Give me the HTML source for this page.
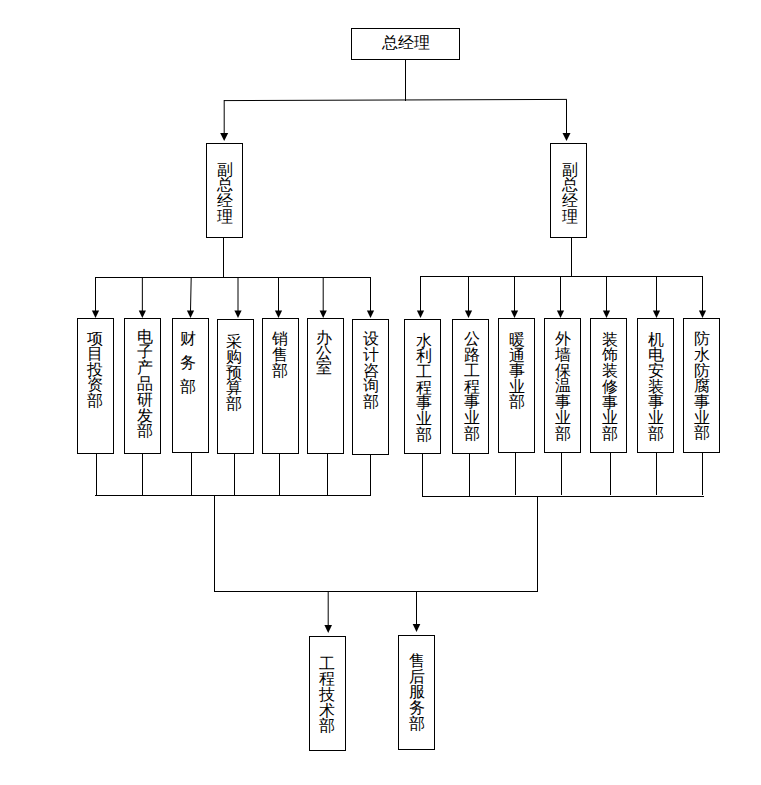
<!DOCTYPE html>
<html><head><meta charset="utf-8"><style>
html,body{margin:0;padding:0;background:#fff;width:761px;height:785px;overflow:hidden}
body{position:relative;font-family:"Liberation Sans",sans-serif;color:#000}
svg{position:absolute;left:0;top:0}
svg line{stroke:#000;stroke-width:1}
svg rect{fill:none;stroke:#000;stroke-width:1}
svg polygon{fill:#000;stroke:none;shape-rendering:geometricPrecision}
svg line.aa{shape-rendering:geometricPrecision}
.v{position:absolute;width:16px;height:120px}
.v i{position:absolute;left:0;font-style:normal;font-size:15.5px;line-height:16px;display:block;width:16px;text-align:center}
.h{position:absolute;font-size:15.5px;line-height:16px;white-space:nowrap}
</style></head><body>
<svg width="761" height="785" viewBox="0 0 761 785" shape-rendering="crispEdges">
<rect x="351.5" y="28.5" width="108" height="31"/>
<line x1="405.5" y1="59" x2="405.5" y2="101"/>
<line class="aa" x1="224" y1="100.6" x2="567" y2="99.4"/>
<line class="aa" x1="224.2" y1="100" x2="224.2" y2="133.5"/><polygon points="220.2,133 228.2,133 224.2,141"/>
<line x1="566.5" y1="100" x2="566.5" y2="134"/><polygon points="562.5,133 570.5,133 566.5,141"/>
<rect x="206.5" y="143.5" width="36" height="94"/>
<rect x="550.5" y="143.5" width="36" height="94"/>
<line x1="223.5" y1="237" x2="223.5" y2="278"/>
<line x1="571.5" y1="237" x2="571.5" y2="277"/>
<line x1="95" y1="277.5" x2="371" y2="277.5"/>
<line x1="420" y1="276.5" x2="703" y2="276.5"/>
<line x1="95.5" y1="277" x2="95.5" y2="311"/><polygon points="91.9,310.5 99.1,310.5 95.5,318"/>
<line class="aa" x1="142.35" y1="277.5" x2="142.35" y2="311.0"/><polygon points="138.75,310.5 145.95,310.5 142.35,318"/>
<line class="aa" x1="191.2" y1="277.5" x2="190.5" y2="311.0"/><polygon points="186.9,310.5 194.1,310.5 190.5,318"/>
<line class="aa" x1="238.0" y1="277.5" x2="238.0" y2="311.0"/><polygon points="234.4,310.5 241.6,310.5 238.0,318"/>
<line x1="278.5" y1="277" x2="278.5" y2="311"/><polygon points="274.9,310.5 282.1,310.5 278.5,318"/>
<line class="aa" x1="323.2" y1="277.5" x2="323.2" y2="311.0"/><polygon points="319.59999999999997,310.5 326.8,310.5 323.2,318"/>
<line x1="370.5" y1="277" x2="370.5" y2="311"/><polygon points="366.9,310.5 374.1,310.5 370.5,318"/>
<line x1="420.5" y1="276" x2="420.5" y2="311"/><polygon points="416.9,310.5 424.1,310.5 420.5,318"/>
<line x1="468.5" y1="276" x2="468.5" y2="311"/><polygon points="464.9,310.5 472.1,310.5 468.5,318"/>
<line x1="514.5" y1="276" x2="514.5" y2="311"/><polygon points="510.9,310.5 518.1,310.5 514.5,318"/>
<line x1="560.5" y1="276" x2="560.5" y2="311"/><polygon points="556.9,310.5 564.1,310.5 560.5,318"/>
<line x1="606.5" y1="276" x2="606.5" y2="311"/><polygon points="602.9,310.5 610.1,310.5 606.5,318"/>
<line x1="656.5" y1="276" x2="656.5" y2="311"/><polygon points="652.9,310.5 660.1,310.5 656.5,318"/>
<line x1="702.5" y1="276" x2="702.5" y2="311"/><polygon points="698.9,310.5 706.1,310.5 702.5,318"/>
<rect x="77.5" y="318.5" width="36" height="135"/>
<rect x="124.5" y="318.5" width="36" height="135"/>
<rect x="172.5" y="318.5" width="36" height="134"/>
<rect x="217.5" y="319.5" width="36" height="134"/>
<rect x="262.5" y="318.5" width="36" height="135"/>
<rect x="307.5" y="318.5" width="36" height="135"/>
<rect x="352.5" y="319.5" width="36" height="135"/>
<rect x="404.5" y="319.5" width="36" height="134"/>
<rect x="452.5" y="319.5" width="36" height="134"/>
<rect x="498.5" y="318.5" width="36" height="134"/>
<rect x="544.5" y="318.5" width="36" height="134"/>
<rect x="590.5" y="318.5" width="36" height="134"/>
<rect x="637.5" y="318.5" width="36" height="134"/>
<rect x="683.5" y="318.5" width="36" height="134"/>
<line x1="96.5" y1="453" x2="96.5" y2="496"/>
<line x1="142.5" y1="453" x2="142.5" y2="496"/>
<line x1="191.5" y1="452" x2="191.5" y2="496"/>
<line x1="234.5" y1="453" x2="234.5" y2="496"/>
<line x1="279.5" y1="453" x2="279.5" y2="496"/>
<line x1="327.5" y1="453" x2="327.5" y2="496"/>
<line x1="370.5" y1="454" x2="370.5" y2="496"/>
<line x1="422.5" y1="453" x2="422.5" y2="497"/>
<line x1="469.5" y1="453" x2="469.5" y2="497"/>
<line x1="515.5" y1="452" x2="515.5" y2="495"/>
<line x1="561.5" y1="452" x2="561.5" y2="495"/>
<line x1="610.5" y1="452" x2="610.5" y2="495"/>
<line x1="656.5" y1="452" x2="656.5" y2="495"/>
<line x1="702.5" y1="452" x2="702.5" y2="495"/>
<line x1="95" y1="495.5" x2="371" y2="495.5"/>
<line x1="422" y1="496.5" x2="704" y2="496.5"/>
<line x1="214.5" y1="495" x2="214.5" y2="592"/>
<line x1="537.5" y1="496" x2="537.5" y2="592"/>
<line x1="214" y1="591.5" x2="538" y2="591.5"/>
<line class="aa" x1="328.2" y1="591.5" x2="328.2" y2="625.5"/><polygon points="324.4,625 332.0,625 328.2,633"/>
<line x1="416.5" y1="591" x2="416.5" y2="625"/><polygon points="412.7,624 420.3,624 416.5,632"/>
<rect x="309.5" y="636.5" width="36" height="114"/>
<rect x="398.5" y="635.5" width="36" height="114"/>
</svg>
<div class="v" style="left:216.8px;top:161.8px"><i style="top:0.00px">副</i><i style="top:15.65px">总</i><i style="top:31.30px">经</i><i style="top:46.95px">理</i></div><div class="v" style="left:562.0px;top:161.8px"><i style="top:0.00px">副</i><i style="top:15.65px">总</i><i style="top:31.30px">经</i><i style="top:46.95px">理</i></div><div class="v" style="left:87.3px;top:330.7px"><i style="top:0.00px">项</i><i style="top:15.60px">目</i><i style="top:31.20px">投</i><i style="top:46.80px">资</i><i style="top:62.40px">部</i></div><div class="v" style="left:137.0px;top:328.7px"><i style="top:0.00px">电</i><i style="top:15.80px">子</i><i style="top:31.60px">产</i><i style="top:47.40px">品</i><i style="top:63.20px">研</i><i style="top:79.00px">发</i><i style="top:94.80px">部</i></div><div class="v" style="left:179.5px;top:330.7px"><i style="top:0.00px">财</i><i style="top:24.00px">务</i><i style="top:48.00px">部</i></div><div class="v" style="left:226.2px;top:333.7px"><i style="top:0.00px">采</i><i style="top:15.50px">购</i><i style="top:31.00px">预</i><i style="top:46.50px">算</i><i style="top:62.00px">部</i></div><div class="v" style="left:272.4px;top:331.2px"><i style="top:0.00px">销</i><i style="top:15.80px">售</i><i style="top:31.60px">部</i></div><div class="v" style="left:316.0px;top:329.5px"><i style="top:0.00px">办</i><i style="top:15.30px">公</i><i style="top:30.60px">室</i></div><div class="v" style="left:362.8px;top:331.2px"><i style="top:0.00px">设</i><i style="top:15.70px">计</i><i style="top:31.40px">咨</i><i style="top:47.10px">询</i><i style="top:62.80px">部</i></div><div class="v" style="left:416.2px;top:332.5px"><i style="top:0.00px">水</i><i style="top:15.70px">利</i><i style="top:31.40px">工</i><i style="top:47.10px">程</i><i style="top:62.80px">事</i><i style="top:78.50px">业</i><i style="top:94.20px">部</i></div><div class="v" style="left:463.7px;top:331.2px"><i style="top:0.00px">公</i><i style="top:15.80px">路</i><i style="top:31.60px">工</i><i style="top:47.40px">程</i><i style="top:63.20px">事</i><i style="top:79.00px">业</i><i style="top:94.80px">部</i></div><div class="v" style="left:508.6px;top:332.0px"><i style="top:0.00px">暖</i><i style="top:15.60px">通</i><i style="top:31.20px">事</i><i style="top:46.80px">业</i><i style="top:62.40px">部</i></div><div class="v" style="left:554.8px;top:331.0px"><i style="top:0.00px">外</i><i style="top:15.80px">墙</i><i style="top:31.60px">保</i><i style="top:47.40px">温</i><i style="top:63.20px">事</i><i style="top:79.00px">业</i><i style="top:94.80px">部</i></div><div class="v" style="left:602.0px;top:331.7px"><i style="top:0.00px">装</i><i style="top:15.75px">饰</i><i style="top:31.50px">装</i><i style="top:47.25px">修</i><i style="top:63.00px">事</i><i style="top:78.75px">业</i><i style="top:94.50px">部</i></div><div class="v" style="left:648.0px;top:331.7px"><i style="top:0.00px">机</i><i style="top:15.70px">电</i><i style="top:31.40px">安</i><i style="top:47.10px">装</i><i style="top:62.80px">事</i><i style="top:78.50px">业</i><i style="top:94.20px">部</i></div><div class="v" style="left:694.0px;top:331.3px"><i style="top:0.00px">防</i><i style="top:15.70px">水</i><i style="top:31.40px">防</i><i style="top:47.10px">腐</i><i style="top:62.80px">事</i><i style="top:78.50px">业</i><i style="top:94.20px">部</i></div><div class="v" style="left:319.0px;top:655.6px"><i style="top:0.00px">工</i><i style="top:15.70px">程</i><i style="top:31.40px">技</i><i style="top:47.10px">术</i><i style="top:62.80px">部</i></div><div class="v" style="left:409.2px;top:653.0px"><i style="top:0.00px">售</i><i style="top:15.70px">后</i><i style="top:31.40px">服</i><i style="top:47.10px">务</i><i style="top:62.80px">部</i></div><div class="h" style="left:382px;top:35.4px">总经理</div>
</body></html>
